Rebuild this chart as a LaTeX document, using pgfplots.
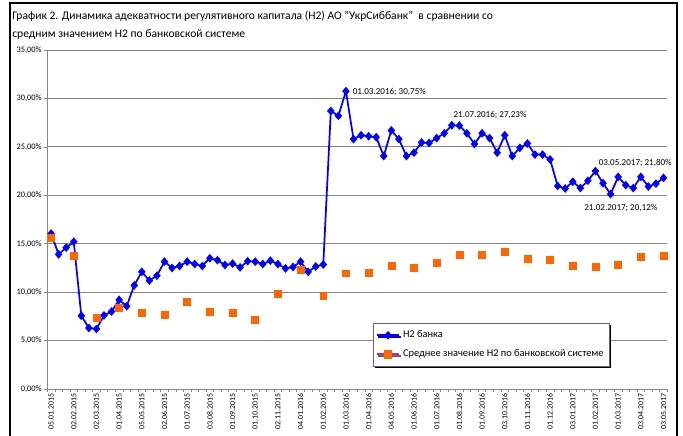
\documentclass[border=0pt]{standalone}
\usepackage{pgfplots}
\pgfplotsset{compat=1.18}
\usepackage{pgfplotstable}
\usepackage{fontspec}
\setmainfont{Carlito}[Ligatures=NoCommon]
\usetikzlibrary{shadows}
\definecolor{h2blue}{RGB}{0,0,255}
\definecolor{avgorange}{RGB}{255,102,0}
\definecolor{gridgray}{RGB}{134,134,134}
\definecolor{mauve}{RGB}{160,70,110}
\definecolor{legborder}{RGB}{100,100,130}

\pgfplotstableread{
x y
0 16.05
1 13.9
2 14.6
3 15.2
4 7.56
5 6.3
6 6.2
7 7.6
8 8.0
9 9.2
10 8.55
11 10.7
12 12.1
13 11.2
14 11.7
15 13.15
16 12.5
17 12.7
18 13.15
19 12.9
20 12.7
21 13.5
22 13.3
23 12.8
24 12.95
25 12.55
26 13.2
27 13.15
28 12.9
29 13.25
30 12.9
31 12.45
32 12.6
33 13.15
34 12.1
35 12.65
36 12.85
37 28.7
38 28.2
39 30.75
40 25.8
41 26.2
42 26.1
43 26.0
44 24.05
45 26.7
46 25.8
47 24.05
48 24.4
49 25.45
50 25.4
51 25.9
52 26.4
53 27.23
54 27.2
55 26.4
56 25.3
57 26.4
58 25.9
59 24.4
60 26.2
61 24.05
62 24.9
63 25.35
64 24.2
65 24.2
66 23.7
67 20.96
68 20.7
69 21.4
70 20.75
71 21.5
72 22.5
73 21.25
74 20.12
75 21.9
76 21.05
77 20.75
78 21.9
79 20.9
80 21.2
81 21.8
}\bankdata

\pgfplotstableread{
x y
0 15.6
3 13.8
6 7.4
9 8.35
12 7.9
15 7.7
18 9.0
21 8.0
24 7.9
27 7.1
30 9.85
33 12.35
36 9.65
39 11.95
42 12.0
45 12.75
48 12.55
51 13.05
54 13.85
57 13.9
60 14.2
63 13.45
66 13.35
69 12.7
72 12.65
75 12.85
78 13.7
81 13.8
}\avgdata

\begin{document}
\begin{tikzpicture}
\useasboundingbox (0,0) rectangle (512.25pt,327pt);
\draw[line width=0.9pt] (7.5pt,-3pt) -- (7.5pt,324.75pt) -- (507.75pt,324.75pt) -- (507.75pt,-3pt);
\node[anchor=base west, inner sep=0pt, font=\fontsize{8.7}{10}\selectfont] at (9pt,312pt) {График 2. Динамика адекватности регулятивного капитала (Н2) АО \symbol{"22}УкрСиббанк\symbol{"22}\ \ в сравнении со};
\node[anchor=base west, inner sep=0pt, font=\fontsize{8.7}{10}\selectfont] at (9pt,298.5pt) {средним значением Н2 по банковской системе};
\begin{axis}[
  at={(35.475pt,35.25pt)}, anchor=south west,
  width=465pt, height=254.25pt, scale only axis,
  xmin=-0.5, xmax=81.5, ymin=0, ymax=35,
  axis lines*=left,
  axis line style={gridgray, line width=0.6pt},
  clip=false,
  ytick={0,5,...,35},
  yticklabels={{0,00\%},{5,00\%},{10,00\%},{15,00\%},{20,00\%},{25,00\%},{30,00\%},{35,00\%}},
  ymajorgrids,
  grid style={gridgray, line width=0.6pt},
  xtick={0,3,...,81},
  xticklabels={05.01.2015,02.02.2015,02.03.2015,01.04.2015,05.05.2015,02.06.2015,01.07.2015,03.08.2015,01.09.2015,01.10.2015,02.11.2015,04.01.2016,01.02.2016,01.03.2016,01.04.2016,04.05.2016,01.06.2016,01.07.2016,01.08.2016,01.09.2016,03.10.2016,01.11.2016,01.12.2016,03.01.2017,01.02.2017,01.03.2017,03.04.2017,03.05.2017},
  minor xtick={-0.5,0.5,...,81.5},
  major x tick style={draw=none},
  minor x tick style={gridgray, line width=0.5pt},
  y tick style={gridgray, line width=0.5pt},
  tick align=outside,
  major tick length=2.5pt, minor tick length=2.5pt,
  xticklabel style={rotate=90, anchor=east, font=\fontsize{5.9}{6}\selectfont, inner sep=1pt},
  yticklabel style={font=\fontsize{6.3}{7}\selectfont, inner sep=1.5pt},
  legend style={at={(0.525,0.1947)}, anchor=north west, draw=legborder, line width=0.6pt,
    font=\fontsize{7.8}{9}\selectfont, inner xsep=2pt, inner ysep=3.5pt, row sep=3.5pt,
    general shadow={fill=black, shadow xshift=1.3pt, shadow yshift=-1.3pt}},
  legend cell align=left,
]
\addplot[h2blue, line width=1.3pt, mark=diamond*, mark size=2.3pt, mark options={solid, xscale=1.15}] table[x=x,y=y] {\bankdata};
\addlegendentry{Н2 банка}
\addplot[only marks, mark=square*, mark size=2.6pt, color=avgorange, forget plot] table[x=x,y=y] {\avgdata};
\addlegendimage{mauve, line width=1.3pt, mark=square*, mark options={avgorange, fill=avgorange, mark size=2.6pt}}
\addlegendentry{Среднее значение Н2 по банковской системе\hspace{9pt}}
\node[anchor=west, inner sep=0pt, font=\fontsize{6.8}{8}\selectfont] at (axis cs:39.88,30.65) {01.03.2016; 30,75\%};
\node[anchor=west, inner sep=0pt, font=\fontsize{6.8}{8}\selectfont] at (axis cs:53.2,28.32) {21.07.2016; 27,23\%};
\node[anchor=west, inner sep=0pt, font=\fontsize{6.8}{8}\selectfont] at (axis cs:72.4,23.37) {03.05.2017; 21,80\%};
\node[anchor=west, inner sep=0pt, font=\fontsize{6.8}{8}\selectfont] at (axis cs:70.5,18.66) {21.02.2017; 20,12\%};
\end{axis}
\end{tikzpicture}
\end{document}
